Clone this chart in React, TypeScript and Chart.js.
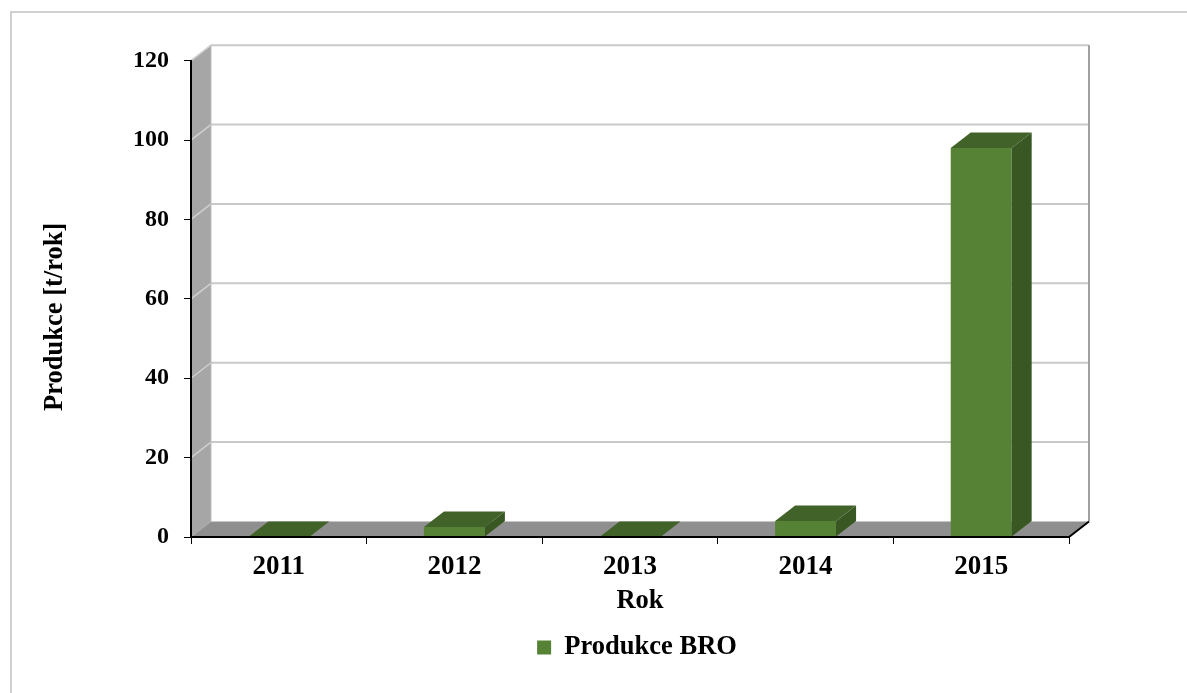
import React, { useEffect, useRef } from "react";
import { Chart, registerables } from "chart.js";

Chart.register(...registerables);

// ---- data ----
const categories = ["2011", "2012", "2013", "2014", "2015"];
const produkceBRO = [0, 2.5, 0, 4, 98];
const yMin = 0;
const yMax = 120;
const yStep = 20;
const seriesLabel = "Produkce BRO";
const xTitle = "Rok";
const yTitle = "Produkce [t/rok]";

// ---- style ----
const FONT = '"Liberation Serif", "Times New Roman", Times, serif';
const DX = 20; // 3D depth offset (x)
const DY = 15.5; // 3D depth offset (y)
const FRONT = "#558235";
const TOP = "#41632a";
const SIDE = "#385723";

const box3d = {
  id: "box3d",
  beforeDraw(chart: any) {
    const ctx = chart.ctx;
    const ys = chart.scales.y;
    const L = chart.chartArea.left;
    const R = chart.chartArea.right;
    const y0 = ys.getPixelForValue(yMin);
    const yT = ys.getPixelForValue(yMax);
    ctx.save();
    // outer frame
    ctx.strokeStyle = "#d0d0d0";
    ctx.lineWidth = 2;
    ctx.strokeRect(11, 12, 3000, 3000);
    // back wall
    ctx.fillStyle = "#ffffff";
    ctx.fillRect(L + DX, yT - DY, R - L, y0 - yT);
    // side wall
    ctx.fillStyle = "#a6a6a6";
    ctx.beginPath();
    ctx.moveTo(L, yT);
    ctx.lineTo(L + DX, yT - DY);
    ctx.lineTo(L + DX, y0 - DY);
    ctx.lineTo(L, y0);
    ctx.closePath();
    ctx.fill();
    // floor
    ctx.fillStyle = "#8f8f8f";
    ctx.beginPath();
    ctx.moveTo(L, y0);
    ctx.lineTo(L + DX, y0 - DY);
    ctx.lineTo(R + DX, y0 - DY);
    ctx.lineTo(R, y0);
    ctx.closePath();
    ctx.fill();
    // gridlines on back wall and side wall
    for (let v = yMin + yStep; v <= yMax; v += yStep) {
      const py = ys.getPixelForValue(v);
      ctx.strokeStyle = "#c9c9c9";
      ctx.lineWidth = 2;
      ctx.beginPath();
      ctx.moveTo(L + DX, py - DY);
      ctx.lineTo(R + DX, py - DY);
      ctx.stroke();
      ctx.strokeStyle = "#cfcfcf";
      ctx.lineWidth = 1.5;
      ctx.beginPath();
      ctx.moveTo(L, py);
      ctx.lineTo(L + DX, py - DY);
      ctx.stroke();
    }
    // back wall right border
    ctx.strokeStyle = "#a0a0a0";
    ctx.lineWidth = 2;
    ctx.beginPath();
    ctx.moveTo(R + DX, yT - DY);
    ctx.lineTo(R + DX, y0 - DY);
    ctx.stroke();
    // back wall left edge (light)
    ctx.strokeStyle = "#bdbdbd";
    ctx.lineWidth = 1;
    ctx.beginPath();
    ctx.moveTo(L + DX, yT - DY);
    ctx.lineTo(L + DX, y0 - DY);
    ctx.stroke();
    // floor right diagonal edge
    ctx.strokeStyle = "#000000";
    ctx.lineWidth = 2;
    ctx.beginPath();
    ctx.moveTo(R, y0);
    ctx.lineTo(R + DX, y0 - DY);
    ctx.stroke();
    ctx.restore();
  },
  afterDatasetsDraw(chart: any) {
    const ctx = chart.ctx;
    const meta = chart.getDatasetMeta(0);
    ctx.save();
    meta.data.forEach((bar: any) => {
      const { x, y, base, width } = bar.getProps(["x", "y", "base", "width"], true);
      const l = x - width / 2;
      const r = x + width / 2;
      // side face
      ctx.fillStyle = SIDE;
      ctx.beginPath();
      ctx.moveTo(r, y);
      ctx.lineTo(r + DX, y - DY);
      ctx.lineTo(r + DX, base - DY);
      ctx.lineTo(r, base);
      ctx.closePath();
      ctx.fill();
      // top face
      ctx.fillStyle = TOP;
      ctx.beginPath();
      ctx.moveTo(l, y);
      ctx.lineTo(l + DX, y - DY);
      ctx.lineTo(r + DX, y - DY);
      ctx.lineTo(r, y);
      ctx.closePath();
      ctx.fill();
    });
    ctx.restore();
  },
  afterDraw(chart: any) {
    const ctx = chart.ctx;
    const { left, right, top, bottom } = chart.chartArea;
    const ys = chart.scales.y;
    ctx.save();
    ctx.fillStyle = "#000";
    ctx.font = `bold 26.5px ${FONT}`;
    ctx.textAlign = "center";
    ctx.textBaseline = "middle";
    ctx.fillText(xTitle, (left + right + DX) / 2, bottom + 64);
    ctx.translate(ys.left - 32, (top + bottom) / 2 + 18);
    ctx.rotate(-Math.PI / 2);
    ctx.fillText(yTitle, 0, 0);
    ctx.restore();
  },
};

export default function App() {
  const ref = useRef<HTMLCanvasElement>(null);
  useEffect(() => {
    const chart = new Chart(ref.current as HTMLCanvasElement, {
      type: "bar",
      data: {
        labels: categories,
        datasets: [
          {
            label: seriesLabel,
            data: produkceBRO,
            backgroundColor: FRONT,
            borderWidth: 0,
            categoryPercentage: 0.347,
            barPercentage: 1,
          },
        ],
      },
      options: {
        responsive: false,
        animation: false,
        devicePixelRatio: 1,
        layout: { padding: { left: 87, right: 0, top: 60.7, bottom: 22.25 } },
        plugins: {
          tooltip: { enabled: false },
          title: { display: false },
          legend: {
            display: true,
            position: "bottom",
            labels: {
              boxWidth: 14,
              boxHeight: 14,
              padding: 10,
              color: "#000",
              font: { family: FONT, size: 26.5, weight: "bold" },
            },
          },
        },
        scales: {
          x: {
            type: "category",
            offset: true,
            grid: {
              offset: true,
              drawOnChartArea: false,
              drawTicks: true,
              tickLength: 7,
              color: "#000",
              lineWidth: 1,
            },
            border: { display: true, color: "#000", width: 2, z: 1 },
            ticks: {
              color: "#000",
              padding: 7,
              maxRotation: 0,
              font: { family: FONT, size: 27, weight: "bold" },
            },
            afterFit: (s: any) => {
              s.height = 87.25;
            },
          },
          y: {
            type: "linear",
            min: yMin,
            max: yMax,
            grid: {
              drawOnChartArea: false,
              drawTicks: true,
              tickLength: 7,
              color: "#000",
              lineWidth: 1,
            },
            border: { display: true, color: "#000", width: 2, z: 1 },
            ticks: {
              stepSize: yStep,
              color: "#000",
              padding: 15,
              font: { family: FONT, size: 24, weight: "bold" },
            },
            afterFit: (s: any) => {
              s.width = 104;
            },
          },
          y2: {
            type: "linear",
            position: "right",
            display: true,
            grid: { display: false, drawTicks: false },
            border: { display: false },
            ticks: { display: false },
            afterFit: (s: any) => {
              s.width = 118;
            },
          },
        },
      } as any,
      plugins: [box3d],
    });
    return () => chart.destroy();
  }, []);
  return (
    <div style={{ position: "absolute", left: 0, top: 0, width: 1187, height: 693, background: "#fff" }}>
      <canvas ref={ref} width={1187} height={693} style={{ display: "block", width: 1187, height: 693 }} />
    </div>
  );
}
